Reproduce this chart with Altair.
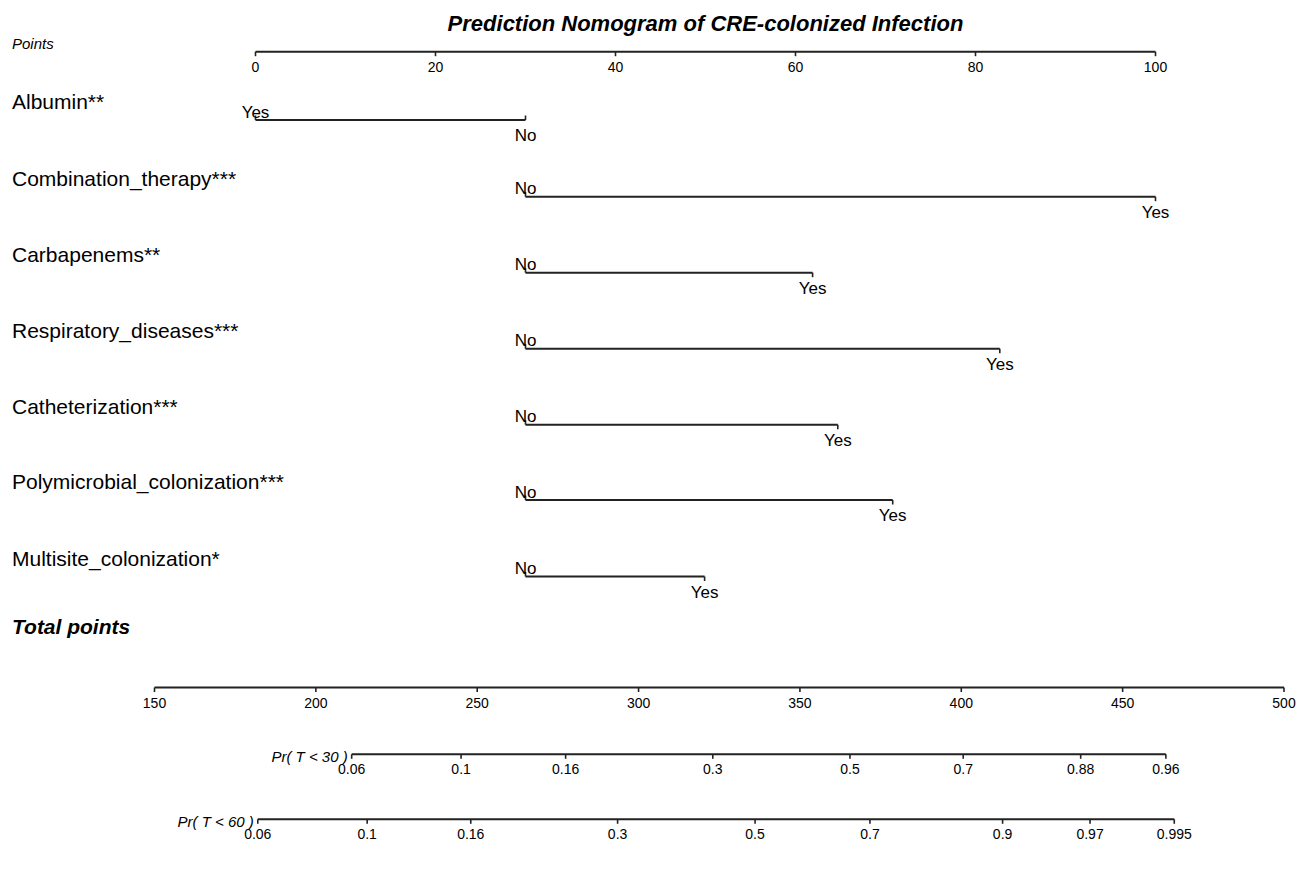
import altair as alt
import pandas as pd

# ---------------- data ----------------
TITLE = "Prediction Nomogram of CRE-colonized Infection"
VARIABLES = [
    "Albumin**",
    "Combination_therapy***",
    "Carbapenems**",
    "Respiratory_diseases***",
    "Catheterization***",
    "Polymicrobial_colonization***",
    "Multisite_colonization*",
]
LEFT_LEVEL = ["Yes", "No", "No", "No", "No", "No", "No"]
RIGHT_LEVEL = ["No", "Yes", "Yes", "Yes", "Yes", "Yes", "Yes"]
LEFT_POINTS = [0, 30, 30, 30, 30, 30, 30]
RIGHT_POINTS = [30, 100, 61.9, 82.7, 64.7, 70.8, 49.9]

POINTS_TICKS = [0, 20, 40, 60, 80, 100]
TOTAL_TICKS = [150, 200, 250, 300, 350, 400, 450, 500]

PR30_NAME = "Pr( T < 30 )"
PR30_LABELS = ["0.06", "0.1", "0.16", "0.3", "0.5", "0.7", "0.88", "0.96"]
PR30_TOTAL = [211.1, 245.0, 277.4, 323.0, 365.5, 400.6, 437.0, 463.4]

PR60_NAME = "Pr( T < 60 )"
PR60_LABELS = ["0.06", "0.1", "0.16", "0.3", "0.5", "0.7", "0.9", "0.97", "0.995"]
PR60_TOTAL = [182.0, 215.9, 248.0, 293.5, 336.1, 371.7, 412.8, 439.9, 466.0]

# ---------------- layout (vertical rows, style) ----------------
W, H = 1290, 854
Y_TITLE = 23
Y_POINTS = 43.7
ROW_Y = [112, 188.7, 264.7, 340.7, 416.7, 492, 568.5]
Y_TOTAL_LABEL = 626
Y_TOTAL = 679.5
Y_PR = [746.3, 811.3]
RIGHT_TICK_UP = [True, False, False, False, False, False, False]
TICK = 4.5
LINE_COLOR = "#222222"
FONT = "Liberation Sans"

X_PTS = alt.Scale(domain=[-27.5, 115.8333], nice=False, zero=False)
X_TOT = alt.Scale(domain=[104.604, 504.34], nice=False, zero=False)
YS = alt.Scale(domain=[0, H], reverse=True, nice=False, zero=False)


def yq(field):
    return alt.Y(f"{field}:Q", scale=YS, axis=None)


def xq(field, scale):
    return alt.X(f"{field}:Q", scale=scale, axis=None)


layers = []

# title
title_df = pd.DataFrame({"x": [50], "y": [Y_TITLE], "t": [TITLE]})
layers.append(
    alt.Chart(title_df).mark_text(fontSize=22, fontWeight="bold", fontStyle="italic",
                                  align="center", baseline="alphabetic", color="black")
    .encode(x=xq("x", X_PTS), y=yq("y"), text="t:N")
)

# left column labels
left_df = pd.DataFrame({
    "t": ["Points"] + VARIABLES + ["Total points"],
    "y": [Y_POINTS - 2.4] + [r - 10.7 for r in ROW_Y] + [Y_TOTAL_LABEL],
    "kind": ["points"] + ["var"] * len(VARIABLES) + ["total"],
})
layers.append(
    alt.Chart(left_df).transform_filter("datum.kind == 'points'")
    .mark_text(fontSize=15, fontStyle="italic", align="left", baseline="alphabetic", color="black")
    .encode(x=alt.value(4), y=yq("y"), text="t:N")
)
layers.append(
    alt.Chart(left_df).transform_filter("datum.kind == 'var'")
    .mark_text(fontSize=21, align="left", baseline="alphabetic", color="black")
    .encode(x=alt.value(4), y=yq("y"), text="t:N")
)
layers.append(
    alt.Chart(left_df).transform_filter("datum.kind == 'total'")
    .mark_text(fontSize=21, fontWeight="bold", fontStyle="italic", align="left",
               baseline="alphabetic", color="black")
    .encode(x=alt.value(4), y=yq("y"), text="t:N")
)


def axis_layers(ticks, labels, y, scale, label_size=14):
    line_df = pd.DataFrame({"x": [min(ticks)], "x2": [max(ticks)], "y": [y]})
    tick_df = pd.DataFrame({"x": ticks, "t": labels, "y": [y] * len(ticks),
                            "y2": [y + TICK] * len(ticks), "yl": [y + 20] * len(ticks)})
    out = [
        alt.Chart(line_df).mark_rule(strokeWidth=2, color=LINE_COLOR)
        .encode(x=xq("x", scale), x2="x2:Q", y=yq("y")),
        alt.Chart(tick_df).mark_rule(strokeWidth=1.6, color=LINE_COLOR)
        .encode(x=xq("x", scale), y=yq("y"), y2="y2:Q"),
        alt.Chart(tick_df).mark_text(fontSize=label_size, align="center", baseline="alphabetic",
                                     color="black")
        .encode(x=xq("x", scale), y=yq("yl"), text="t:N"),
    ]
    return out


# Points axis
layers += axis_layers(POINTS_TICKS, [str(v) for v in POINTS_TICKS], Y_POINTS, X_PTS)

# variable rows
seg_df = pd.DataFrame({"x": LEFT_POINTS, "x2": RIGHT_POINTS, "y": ROW_Y})
layers.append(
    alt.Chart(seg_df).mark_rule(strokeWidth=2, color=LINE_COLOR)
    .encode(x=xq("x", X_PTS), x2="x2:Q", y=yq("y"))
)
lvl_rows = []
for i, v in enumerate(VARIABLES):
    r = ROW_Y[i]
    lvl_rows.append({"x": LEFT_POINTS[i], "t": LEFT_LEVEL[i], "y": r, "y2": r - TICK,
                     "yl": r - 2.5})
    lvl_rows.append({"x": RIGHT_POINTS[i], "t": RIGHT_LEVEL[i], "y": r,
                     "y2": r - TICK if RIGHT_TICK_UP[i] else r + TICK, "yl": r + 21})
lvl_df = pd.DataFrame(lvl_rows)
layers.append(
    alt.Chart(lvl_df).mark_rule(strokeWidth=1.6, color=LINE_COLOR)
    .encode(x=xq("x", X_PTS), y=yq("y"), y2="y2:Q")
)
layers.append(
    alt.Chart(lvl_df).mark_text(fontSize=17, align="center", baseline="alphabetic", color="black")
    .encode(x=xq("x", X_PTS), y=yq("yl"), text="t:N")
)

# Total points axis
layers += axis_layers(TOTAL_TICKS, [str(v) for v in TOTAL_TICKS], Y_TOTAL, X_TOT)

# probability axes
for name, labels, tot, y in [(PR30_NAME, PR30_LABELS, PR30_TOTAL, Y_PR[0]),
                             (PR60_NAME, PR60_LABELS, PR60_TOTAL, Y_PR[1])]:
    layers += axis_layers(tot, labels, y, X_TOT)
    nm_df = pd.DataFrame({"x": [tot[0]], "y": [y + 8], "t": [name]})
    layers.append(
        alt.Chart(nm_df).mark_text(fontSize=15, fontStyle="italic", align="right", dx=-4,
                                   baseline="alphabetic", color="black")
        .encode(x=xq("x", X_TOT), y=yq("y"), text="t:N")
    )

chart = (
    alt.layer(*layers)
    .resolve_scale(x="independent")
    .properties(width=W, height=H, autosize=alt.AutoSizeParams(type="none"), padding=0,
                background="white")
    .configure_view(stroke=None)
    .configure_text(font=FONT)
)

chart.save("out.html", embed_options={"renderer": "svg", "actions": False})
